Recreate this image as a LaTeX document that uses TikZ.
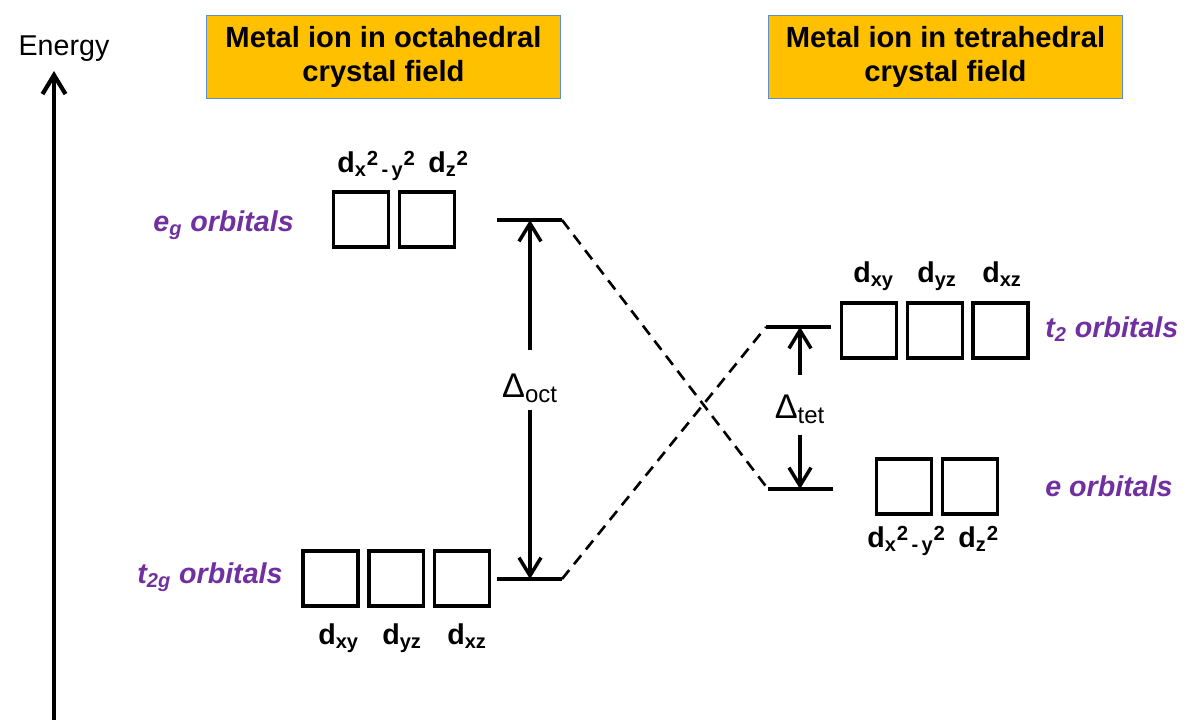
\documentclass[tikz,border=0pt]{standalone}
\usepackage{fontspec}
\setmainfont{Liberation Sans}
\usetikzlibrary{positioning, arrows.meta, calc}
\definecolor{bgTitle}{HTML}{FFC000}
\definecolor{borderTitle}{HTML}{5B8ED6}
\definecolor{textOrbital}{HTML}{7030A0}
\newcommand{\labelfont}{\fontsize{16.3}{19.8}\selectfont}
\newcommand{\sqr}{\raisebox{0.22em}{\fontsize{11.6}{12}\selectfont 2}}
\newcommand{\dorb}[1]{d\textsubscript{#1}}
\newcommand{\dxxyy}{d\textsubscript{x}\sqr\textsubscript{\,-\,y}\sqr}
\newcommand{\dzz}{d\textsubscript{z}\sqr}
\tikzset{
  titlebox/.style={draw=borderTitle, fill=bgTitle, line width=0.8pt,
    minimum width=7.08cm, minimum height=1.66cm, inner sep=0pt,
    align=center, font=\fontsize{16.6}{19.8}\selectfont\bfseries},
  orbbox/.style={draw, line width=1.9pt, minimum size=1.1cm, inner sep=0pt},
  orblabel/.style={font=\labelfont\bfseries, inner sep=0pt, anchor=base west},
  setlabel/.style={font=\labelfont\bfseries\itshape, text=textOrbital,
    inner sep=0pt, anchor=base west},
  deltalabel/.style={font=\fontsize{19.5}{22}\selectfont, inner sep=0pt, anchor=base},
  level/.style={line width=2pt},
  corrline/.style={line width=1.5pt, dash pattern=on 0.23cm off 0.15cm},
  gaparrow/.style={-{Straight Barb[length=0.36cm, width=0.44cm]}, line width=2pt},
  energyarrow/.style={-{Straight Barb[length=0.38cm, width=0.46cm]}, line width=2.4pt},
}

\begin{document}
\begin{tikzpicture}[x=0.02cm, y=-0.02cm]
  \useasboundingbox (0,0) rectangle (1184,720);

  % === Energy axis ===
  \coordinate (axisFoot) at (54,722);
  \coordinate (axisTip) at (54,71);
  \draw[energyarrow] (axisFoot) -- (axisTip);
  \node[font=\labelfont, inner sep=0pt, anchor=base] (energy) at (64,55) {Energy};

  % === Titles ===
  \node[titlebox] (octTitle) at (383.5,57) {Metal ion in octahedral\\crystal field};
  \node[titlebox] (tetTitle) at (945.5,57) {Metal ion in tetrahedral\\crystal field};

  % === Octahedral: e_g set ===
  \node[orbbox] (egA) at (361,219.5) {};
  \node[orbbox, right=0.15cm of egA] (egB) {};
  \node[orblabel] (egAlbl) at (337,172) {\dxxyy};
  \node[orblabel] (egBlbl) at (428,172) {\dzz};
  \node[setlabel] (egName) at (153,231) {e\textsubscript{g} orbitals};

  % === Octahedral: t_2g set ===
  \node[orbbox] (tgA) at (330.5,578.5) {};
  \node[orbbox, right=0.15cm of tgA] (tgB) {};
  \node[orbbox, right=0.15cm of tgB] (tgC) {};
  \node[orblabel] (tgAlbl) at (318,644) {\dorb{xy}};
  \node[orblabel] (tgBlbl) at (382,644) {\dorb{yz}};
  \node[orblabel] (tgClbl) at (447,644) {\dorb{xz}};
  \node[setlabel] (tgName) at (137,583) {t\textsubscript{2g} orbitals};

  % === Tetrahedral: t_2 set ===
  \node[orbbox] (ttA) at (869,330.5) {};
  \node[orbbox, right=0.15cm of ttA] (ttB) {};
  \node[orbbox, right=0.15cm of ttB] (ttC) {};
  \node[orblabel] (ttAlbl) at (853,282) {\dorb{xy}};
  \node[orblabel] (ttBlbl) at (917,282) {\dorb{yz}};
  \node[orblabel] (ttClbl) at (982,282) {\dorb{xz}};
  \node[setlabel] (ttName) at (1045,337) {t\textsubscript{2} orbitals};

  % === Tetrahedral: e set ===
  \node[orbbox] (eA) at (904,486.5) {};
  \node[orbbox, right=0.15cm of eA] (eB) {};
  \node[orblabel] (eAlbl) at (867,547) {\dxxyy};
  \node[orblabel] (eBlbl) at (958,547) {\dzz};
  \node[setlabel] (eName) at (1045,496) {e orbitals};

  % === Energy levels ===
  \coordinate (egL) at (497,220);  \coordinate (egR) at (562,220);
  \coordinate (tgL) at (497,579);  \coordinate (tgR) at (562,579);
  \coordinate (ttL) at (766,327);  \coordinate (ttR) at (831,327);
  \coordinate (eL) at (768,489);   \coordinate (eR) at (833,489);
  \draw[level] (egL) -- (egR);
  \draw[level] (tgL) -- (tgR);
  \draw[level] (ttL) -- (ttR);
  \draw[level] (eL) -- (eR);

  % Dashed correlation lines
  \draw[corrline] (egR) -- (eL);
  \draw[corrline] (tgR) -- (ttL);

  % === Splitting energies ===
  \node[deltalabel, text height=0.94cm, text depth=0.26cm] (dOct) at (530,397) {Δ\textsubscript{oct}};
  \draw[gaparrow] (dOct.north) -- (dOct.north |- egR);
  \draw[gaparrow] (dOct.south) -- (dOct.south |- tgR);

  \node[deltalabel, text height=0.86cm, text depth=0.34cm] (dTet) at (800,418) {Δ\textsubscript{tet}};
  \draw[gaparrow] (dTet.north) -- (dTet.north |- ttR);
  \draw[gaparrow] (dTet.south) -- (dTet.south |- eR);

\end{tikzpicture}
\end{document}
